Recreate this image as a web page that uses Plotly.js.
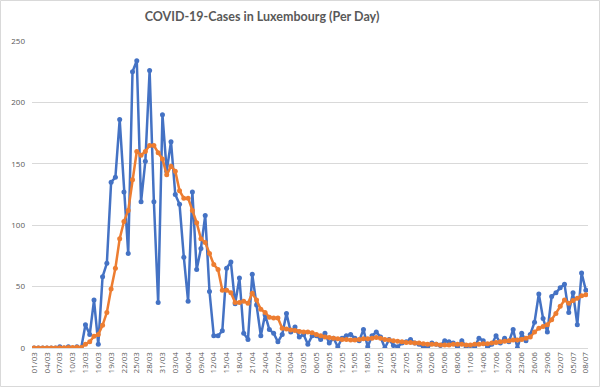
<!DOCTYPE html>
<html>
<head>
<meta charset="utf-8">
<script src="https://cdn.plot.ly/plotly-3.0.1.min.js"></script>
<style>html,body{margin:0;padding:0;background:#fff;}#chart{width:600px;height:387px;}</style>
</head>
<body>
<div id="chart"></div>
<script>
const dates = [
"01/03","02/03","03/03","04/03","05/03","06/03","07/03","08/03","09/03","10/03","11/03","12/03","13/03","14/03","15/03","16/03","17/03","18/03","19/03","20/03","21/03","22/03","23/03","24/03","25/03","26/03","27/03","28/03","29/03","30/03","31/03",
"01/04","02/04","03/04","04/04","05/04","06/04","07/04","08/04","09/04","10/04","11/04","12/04","13/04","14/04","15/04","16/04","17/04","18/04","19/04","20/04","21/04","22/04","23/04","24/04","25/04","26/04","27/04","28/04","29/04","30/04",
"01/05","02/05","03/05","04/05","05/05","06/05","07/05","08/05","09/05","10/05","11/05","12/05","13/05","14/05","15/05","16/05","17/05","18/05","19/05","20/05","21/05","22/05","23/05","24/05","25/05","26/05","27/05","28/05","29/05","30/05","31/05",
"01/06","02/06","03/06","04/06","05/06","06/06","07/06","08/06","09/06","10/06","11/06","12/06","13/06","14/06","15/06","16/06","17/06","18/06","19/06","20/06","21/06","22/06","23/06","24/06","25/06","26/06","27/06","28/06","29/06","30/06",
"01/07","02/07","03/07","04/07","05/07","06/07","07/07","08/07"
];

const dailyCases = [
0,0,0,0,0,0,1,0,1,0,1,0,
19,11,39,3,58,69,135,139,186,127,
77,225,234,119,152,226,119,37,190,144,
168,125,117,74,38,127,64,81,108,46,
10,10,14,65,70,36,57,12,7,60,
35,10,27,15,12,5,11,28,13,17,
9,11,3,10,10,7,12,4,8,1,
8,10,11,8,6,15,1,10,13,9,
0,7,2,1,4,5,7,4,3,1,
0,4,3,2,6,5,4,0,6,1,
2,1,8,6,0,3,10,4,8,5,
15,0,12,6,11,21,44,24,13,42,
45,49,52,29,45,19,61,47
];

const movingAvg = [
0,0,0,0,0,0,0.3,0.3,0.4,0.4,0.6,0.4,
3,5,9.5,11,18.5,29,48,65,89,103,
112,137,160,157,160,165,165,159,154,141,
148,144,128,122,122,112,102,89,86,77,
68,64,47,47,45,37,37,38,36.5,44.5,
39,31.6,29,25,24.5,24.5,16,15.5,14.7,14.2,
13.4,13,13,12.5,11,10,9,8.5,8,7.5,
7,7,6.5,6.5,7,7.5,7.5,8,8.5,8,
7,6.5,6,5.5,5,4.5,4.5,4,4,3.5,
3,3,3,2.5,2.5,2.5,3,3,3,2.5,
2.5,3,3,3.5,3.5,4,4.5,5,5.5,6,
6.5,6.5,7,8,9,13,16,17.5,19,23,
28,34,39,36.5,38.7,40.6,42.5,43.3
];

const tickLabels = dates.filter((d, i) => i % 3 === 0);
const yTicks = [0, 50, 100, 150, 200, 250];

const traces = [
  {
    x: dates, y: dailyCases, type: 'scatter', mode: 'lines+markers',
    line: {color: '#4472C4', width: 2.5},
    marker: {color: '#4472C4', size: 5},
    name: 'Daily'
  },
  {
    x: dates, y: movingAvg, type: 'scatter', mode: 'lines+markers',
    line: {color: '#ED7D31', width: 2.5},
    marker: {color: '#ED7D31', size: 5},
    name: 'Average'
  }
];

const layout = {
  width: 600, height: 387,
  margin: {l: 32, r: 12, t: 41, b: 39},
  paper_bgcolor: '#ffffff', plot_bgcolor: '#ffffff',
  showlegend: false,
  title: {
    text: 'COVID-19-Cases in Luxembourg (Per Day)',
    font: {family: 'Lato, "Open Sans", sans-serif', size: 12.5, color: '#595959', weight: 'bold'},
    x: 262/600, xref: 'container', xanchor: 'center',
    y: 1 - 17/387, yref: 'container', yanchor: 'middle'
  },
  xaxis: {
    type: 'category',
    range: [-0.5, dates.length - 0.5],
    tickmode: 'array', tickvals: tickLabels, ticktext: tickLabels,
    tickangle: -90,
    tickfont: {family: '"Open Sans", sans-serif', size: 8, color: '#595959'},
    showgrid: false, showline: true, linecolor: '#D9D9D9', linewidth: 1,
    ticks: '', zeroline: false, fixedrange: true
  },
  yaxis: {
    range: [0, 250], tickvals: yTicks,
    tickfont: {family: '"Open Sans", sans-serif', size: 8, color: '#595959'},
    showgrid: true, gridcolor: '#D9D9D9', gridwidth: 1,
    zeroline: false, showline: false, ticks: '', ticklabelstandoff: 6, fixedrange: true
  },
  shapes: [{
    type: 'rect', xref: 'paper', yref: 'paper',
    x0: (0.5 - 32) / 556, x1: (599.5 - 32) / 556,
    y0: (348 - 386.5) / 307, y1: (348 - 0.5) / 307,
    line: {color: '#D9D9D9', width: 1}, fillcolor: 'rgba(0,0,0,0)', layer: 'below'
  }]
};

Plotly.newPlot('chart', traces, layout, {displayModeBar: false, staticPlot: true});
</script>
</body>
</html>
